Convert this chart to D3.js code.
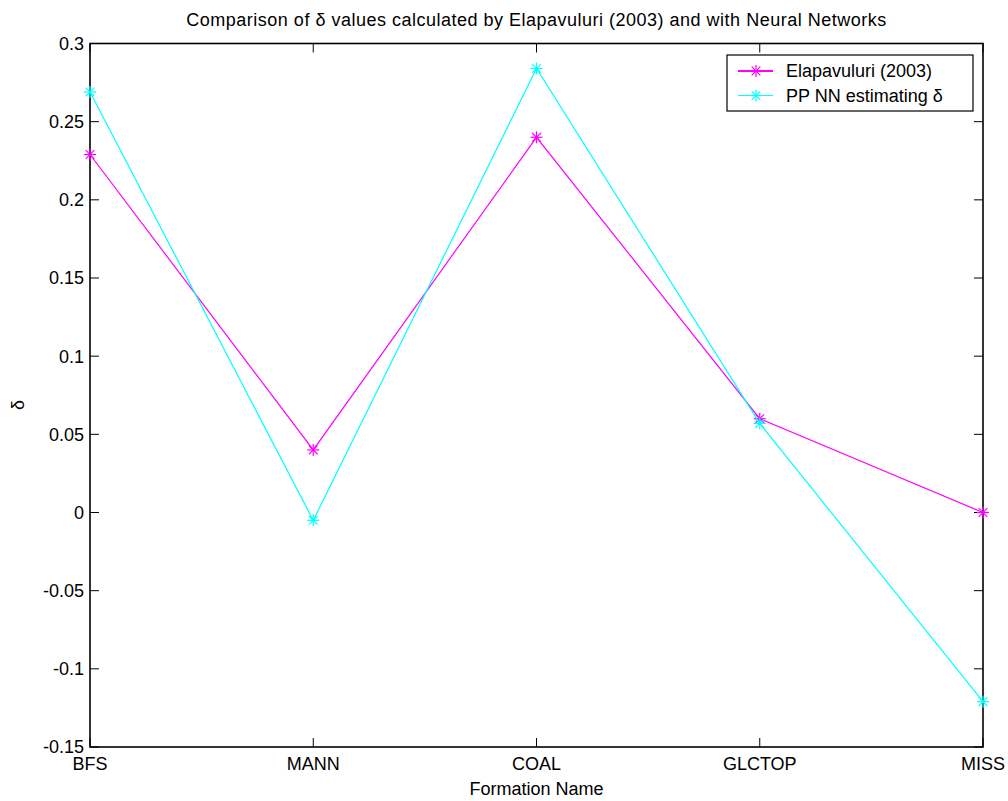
<!DOCTYPE html>
<html>
<head>
<meta charset="utf-8">
<script src="https://cdn.jsdelivr.net/npm/d3@7"></script>
<style>
  body { margin: 0; background: #fff; }
  text { font-family: "Liberation Sans", Arial, sans-serif; fill: #000; }
</style>
</head>
<body>
<div id="chart"></div>
<script>
const formations = ["BFS", "MANN", "COAL", "GLCTOP", "MISS"];
const elapavuluri = [0.229, 0.04, 0.24, 0.06, 0.0];
const nnEstimate = [0.269, -0.005, 0.284, 0.057, -0.121];
const yTicks = [-0.15, -0.1, -0.05, 0, 0.05, 0.1, 0.15, 0.2, 0.25, 0.3];

const width = 1008, height = 801;
const margin = { top: 43.5, right: 25, bottom: 54, left: 90 };
const plotW = width - margin.left - margin.right;
const plotH = height - margin.top - margin.bottom;

const svg = d3.select("#chart").append("svg")
    .attr("width", width)
    .attr("height", height);

const x = d3.scalePoint().domain(formations).range([0, plotW]);
const y = d3.scaleLinear().domain([-0.15, 0.3]).range([plotH, 0]);

const g = svg.append("g")
    .attr("transform", `translate(${margin.left},${margin.top})`);

// tick marks inside the box, on all four sides
const tickLen = 9;
formations.forEach(f => {
    g.append("line").attr("x1", x(f)).attr("x2", x(f))
        .attr("y1", plotH).attr("y2", plotH - tickLen).attr("stroke", "#000");
    g.append("line").attr("x1", x(f)).attr("x2", x(f))
        .attr("y1", 0).attr("y2", tickLen).attr("stroke", "#000");
});
yTicks.forEach(t => {
    g.append("line").attr("x1", 0).attr("x2", tickLen)
        .attr("y1", y(t)).attr("y2", y(t)).attr("stroke", "#000");
    g.append("line").attr("x1", plotW).attr("x2", plotW - tickLen)
        .attr("y1", y(t)).attr("y2", y(t)).attr("stroke", "#000");
});

// tick labels (plain hyphen as minus, like the original)
g.selectAll(".ylab").data(yTicks).enter().append("text")
    .attr("class", "ylab")
    .attr("x", -6)
    .attr("y", d => y(d))
    .attr("dy", "0.36em")
    .attr("text-anchor", "end")
    .style("font-size", "18px")
    .text(d => String(+d.toFixed(2)));

g.selectAll(".xlab").data(formations).enter().append("text")
    .attr("class", "xlab")
    .attr("x", d => x(d))
    .attr("y", plotH + 23)
    .attr("text-anchor", "middle")
    .style("font-size", "18px")
    .text(d => d);

// box
g.append("rect")
    .attr("width", plotW).attr("height", plotH)
    .attr("fill", "none").attr("stroke", "#000").attr("stroke-width", 1.6);

const series = [
    { name: "Elapavuluri (2003)", values: elapavuluri, color: "#ff00ff" },
    { name: "PP NN estimating δ", values: nnEstimate, color: "#00ffff" }
];

const line = d3.line()
    .x((d, i) => x(formations[i]))
    .y(d => y(d));

function star(sel, cx, cy, color, r) {
    const d = r * 0.72;
    const segs = [[-r, 0, r, 0], [0, -r, 0, r], [-d, -d, d, d], [-d, d, d, -d]];
    segs.forEach(s => {
        sel.append("line")
            .attr("x1", cx + s[0]).attr("y1", cy + s[1])
            .attr("x2", cx + s[2]).attr("y2", cy + s[3])
            .attr("stroke", color).attr("stroke-width", 1.2);
    });
}

series.forEach(s => {
    g.append("path")
        .datum(s.values)
        .attr("d", line)
        .attr("fill", "none")
        .attr("stroke", s.color)
        .attr("stroke-width", 1.2);
    s.values.forEach((v, i) => star(g, x(formations[i]), y(v), s.color, 6));
});

// legend
const legend = svg.append("g").attr("transform", "translate(727,55)");
legend.append("rect")
    .attr("width", 246).attr("height", 56)
    .attr("fill", "#fff").attr("stroke", "#000").attr("stroke-width", 1.2);
series.forEach((s, i) => {
    const ly = 16 + i * 24.5;
    legend.append("line")
        .attr("x1", 11).attr("x2", 46).attr("y1", ly).attr("y2", ly)
        .attr("stroke", s.color).attr("stroke-width", i === 0 ? 2 : 1.2);
    star(legend, 29, ly, s.color, 6);
    legend.append("text")
        .attr("x", 59).attr("y", ly).attr("dy", "0.36em")
        .style("font-size", "18px")
        .text(s.name);
});

// title and axis labels
svg.append("text")
    .attr("x", margin.left + plotW / 2)
    .attr("y", 26)
    .attr("text-anchor", "middle")
    .style("font-size", "18px")
    .style("letter-spacing", "0.5px")
    .text("Comparison of δ values calculated by Elapavuluri (2003) and with Neural Networks");

svg.append("text")
    .attr("x", margin.left + plotW / 2)
    .attr("y", 795)
    .attr("text-anchor", "middle")
    .style("font-size", "18px")
    .text("Formation Name");

svg.append("text")
    .attr("transform", "translate(24,405) rotate(-90)")
    .attr("text-anchor", "middle")
    .style("font-size", "18px")
    .text("δ");
</script>
</body>
</html>
